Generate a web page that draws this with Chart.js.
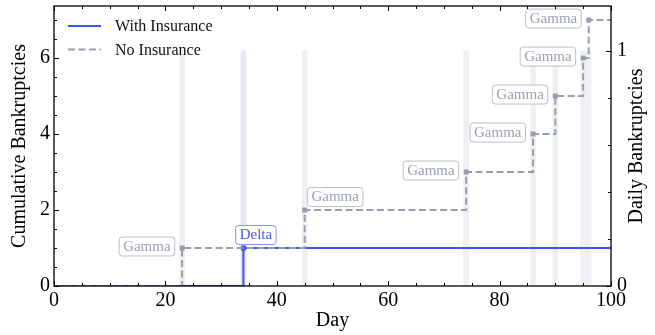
<!DOCTYPE html>
<html>
<head>
<meta charset="utf-8">
<script src="https://cdn.jsdelivr.net/npm/chart.js@4.4.0/dist/chart.umd.min.js"></script>
<style>
  html, body { margin: 0; padding: 0; background: #fff; }
</style>
</head>
<body>
<canvas id="chart" width="655" height="335"></canvas>
<script>
// Données
const noInsDays = [0, 23, 45, 74, 86, 90, 95, 96, 100]
const noInsTotal = [0, 1, 2, 3, 4, 5, 6, 7, 7]
const insDays = [0, 34, 100]
const insTotal = [0, 1, 1]
const eventDays = [23, 34, 45, 74, 86, 90, 95, 96]
const eventNames = ["Gamma", "Delta", "Gamma", "Gamma", "Gamma", "Gamma", "Gamma", "Gamma"]
const eventInsured = [false, true, false, false, false, false, false, false]
const dailyCounts = [1, 1, 1, 1, 1, 1, 1, 1]
const xTicks = [0, 20, 40, 60, 80, 100]
const yTicks = [0, 2, 4, 6]
const y2Ticks = [0, 1]

const SERIF = "'Liberation Serif', 'Times New Roman', serif"
const BLUE = "rgb(62, 86, 228)"
const GREY = "rgb(150, 160, 172)"

// placement des étiquettes: "left" = à gauche du point, sinon au-dessus (décalage x)
const labelPlace = ["left", 12, 30, "left", "left", "left", "left", "left"]

// pas de marge automatique autour des axes
const noPad = (s) => {
  s.paddingTop = 0
  s.paddingBottom = 0
  s.paddingLeft = 0
  s.paddingRight = 0
}

const decor = {
  id: "decor",
  afterDatasetsDraw(chart) {
    const ctx = chart.ctx

    // étiquettes des événements
    ctx.save()
    ctx.font = `15px ${SERIF}`
    eventDays.forEach((day, i) => {
      const dsIndex = eventInsured[i] ? 1 : 2
      const days = eventInsured[i] ? insDays : noInsDays
      const pt = chart.getDatasetMeta(dsIndex).data[days.indexOf(day)]
      const text = eventNames[i]
      const w = ctx.measureText(text).width + 8
      const h = 19
      let bx, by
      if (labelPlace[i] === "left") {
        bx = pt.x - 8 - w
        by = pt.y - 2 - h / 2
      } else {
        bx = pt.x + labelPlace[i] - w / 2
        by = pt.y - 4 - h
      }
      ctx.beginPath()
      ctx.roundRect(bx + 0.5, by + 0.5, w, h, 3)
      ctx.fillStyle = "#fff"
      ctx.fill()
      ctx.lineWidth = 1
      ctx.strokeStyle = eventInsured[i] ? "rgb(130, 145, 238)" : "rgb(185, 191, 200)"
      ctx.stroke()
      ctx.fillStyle = eventInsured[i] ? "rgb(70, 92, 230)" : "rgb(155, 163, 176)"
      ctx.textAlign = "center"
      ctx.textBaseline = "middle"
      ctx.fillText(text, bx + w / 2 + 0.5, by + h / 2 + 1)
    })
    ctx.restore()
  },
  afterDraw(chart) {
    const ctx = chart.ctx
    const { left, right, top, bottom } = chart.chartArea
    const sx = chart.scales.x
    const sy = chart.scales.y
    const sy2 = chart.scales.y2
    ctx.save()
    ctx.strokeStyle = "#000"
    ctx.lineWidth = 1

    // graduations vers l'intérieur
    const tick = (x1, y1, x2, y2) => {
      ctx.beginPath()
      ctx.moveTo(x1, y1)
      ctx.lineTo(x2, y2)
      ctx.stroke()
    }
    for (let v = 0; v <= 100; v += 5) {
      const x = Math.round(sx.getPixelForValue(v)) + 0.5
      const len = v % 20 === 0 ? 5 : 3
      tick(x, bottom, x, bottom - len)
      tick(x, top, x, top + len)
    }
    for (let v = 0; v <= sy.max; v += 0.5) {
      const y = Math.round(sy.getPixelForValue(v)) + 0.5
      tick(left, y, left + (v % 2 === 0 ? 5 : 3), y)
    }
    for (let k = 0; k * 0.2 <= sy2.max; k++) {
      const y = Math.round(sy2.getPixelForValue(k * 0.2)) + 0.5
      tick(right, y, right - (k % 5 === 0 ? 5 : 3), y)
    }

    // cadre
    ctx.lineWidth = 1.3
    ctx.strokeRect(left, top, right - left, bottom - top)

    // titre de l'axe de droite
    ctx.fillStyle = "#000"
    ctx.font = `20px ${SERIF}`
    ctx.textAlign = "center"
    ctx.textBaseline = "middle"
    ctx.translate(637, (top + bottom) / 2)
    ctx.rotate(-Math.PI / 2)
    ctx.fillText("Daily Bankruptcies", 0, 0)
    ctx.restore()

    // légende
    ctx.save()
    const items = [chart.data.datasets[1], chart.data.datasets[2]]
    items.forEach((ds, i) => {
      const y = top + 20 + i * 23.5
      ctx.beginPath()
      ctx.strokeStyle = ds.borderColor
      ctx.lineWidth = 2
      ctx.setLineDash(ds.borderDash || [])
      ctx.moveTo(left + 14, y)
      ctx.lineTo(left + 47, y)
      ctx.stroke()
      ctx.setLineDash([])
      ctx.fillStyle = "#111"
      ctx.font = `16px ${SERIF}`
      ctx.textAlign = "left"
      ctx.textBaseline = "middle"
      ctx.fillText(ds.label, left + 61, y + 1)
    })
    ctx.restore()
  },
}

function createChart() {
  const ctx = document.getElementById("chart").getContext("2d")
  const Chart = window.Chart

  new Chart(ctx, {
    type: "line",
    data: {
      datasets: [
        {
          type: "bar",
          label: "Daily",
          data: eventDays.map((d, i) => ({ x: d, y: dailyCounts[i] })),
          yAxisID: "y2",
          backgroundColor: eventInsured.map((f) => (f ? "rgb(228, 231, 251)" : "rgb(238, 240, 243)")),
          borderWidth: 0,
          barThickness: 5,
          order: 3,
        },
        {
          label: "With Insurance",
          data: insDays.map((d, i) => ({ x: d, y: insTotal[i] })),
          yAxisID: "y",
          stepped: "before",
          borderColor: BLUE,
          borderWidth: 2,
          pointStyle: "rect",
          pointRadius: insDays.map((d) => (eventDays.includes(d) ? 3.5 : 0)),
          pointBackgroundColor: BLUE,
          pointBorderWidth: 0,
          order: 2,
        },
        {
          label: "No Insurance",
          data: noInsDays.map((d, i) => ({ x: d, y: noInsTotal[i] })),
          yAxisID: "y",
          stepped: "before",
          borderColor: GREY,
          borderWidth: 2,
          borderDash: [7, 3.5],
          pointStyle: "rect",
          pointRadius: noInsDays.map((d) => (eventDays.includes(d) ? 3.5 : 0)),
          pointBackgroundColor: GREY,
          pointBorderWidth: 0,
          order: 1,
        },
      ],
    },
    options: {
      responsive: false,
      devicePixelRatio: 1,
      animation: false,
      layout: { padding: { top: 6, left: 0, right: 0, bottom: 0 } },
      plugins: {
        legend: { display: false },
        tooltip: { enabled: false },
      },
      scales: {
        x: {
          type: "linear",
          position: "bottom",
          min: 0,
          max: 100,
          offset: false,
          afterBuildTicks: (s) => { s.ticks = xTicks.map((v) => ({ value: v })) },
          afterFit: (s) => { s.height = 49; noPad(s) },
          grid: { display: false, drawTicks: false },
          border: { display: false },
          ticks: {
            maxRotation: 0,
            padding: 3,
            color: "#000",
            font: { family: SERIF, size: 20 },
          },
          title: {
            display: true,
            text: "Day",
            color: "#000",
            font: { family: SERIF, size: 20 },
            padding: { top: 0, bottom: 2 },
          },
        },
        y: {
          type: "linear",
          position: "left",
          min: 0,
          max: 7.37,
          afterBuildTicks: (s) => { s.ticks = yTicks.map((v) => ({ value: v })) },
          afterFit: (s) => { s.width = 54; noPad(s) },
          grid: { display: false, drawTicks: false },
          border: { display: false },
          ticks: {
            padding: 4,
            color: "#000",
            font: { family: SERIF, size: 20 },
          },
          title: {
            display: true,
            text: "Cumulative Bankruptcies",
            color: "#000",
            font: { family: SERIF, size: 20 },
            padding: { top: 8, bottom: 0 },
          },
        },
        y2: {
          type: "linear",
          position: "right",
          min: 0,
          max: 1.19,
          afterBuildTicks: (s) => { s.ticks = y2Ticks.map((v) => ({ value: v })) },
          afterFit: (s) => { s.width = 44; noPad(s) },
          grid: { display: false, drawTicks: false },
          border: { display: false },
          ticks: {
            padding: 6,
            color: "#000",
            font: { family: SERIF, size: 20 },
          },
        },
      },
    },
    plugins: [decor],
  })
}

document.addEventListener("DOMContentLoaded", () => {
  createChart()
})
</script>
</body>
</html>
